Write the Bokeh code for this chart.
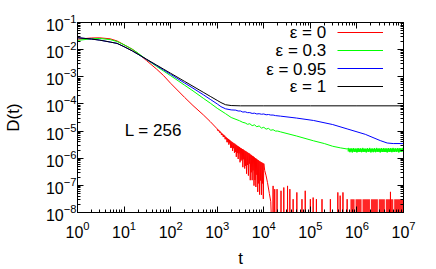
import numpy as np
from bokeh.plotting import figure
from bokeh.models import (LogAxis, FixedTicker, Legend, LegendItem, Label,
                          CustomJSTickFormatter, Range1d)
from bokeh.core.properties import value
from bokeh.embed import file_html
from bokeh.resources import INLINE

# ---------------- data (log10 values) ----------------
legend_labels = ["ε = 0", "ε = 0.3", "ε = 0.95", "ε = 1"]
annotation_text = "L = 256"

black_log_t = [0, 0.3, 0.48, 0.7, 0.85, 1.0, 1.18, 1.3, 1.48, 1.7, 1.85, 2.0, 2.3, 2.48,
               2.7, 2.85, 3.0, 3.08, 3.18, 3.3, 3.5, 4, 5, 6, 7]
black_log_D = [-1.56, -1.61, -1.65, -1.72, -1.77, -1.89, -2.05, -2.17, -2.35, -2.57, -2.72,
               -2.87, -3.17, -3.35, -3.57, -3.72, -3.87, -3.95, -4.03, -4.06, -4.07, -4.07,
               -4.07, -4.07, -4.07]

blue_log_t = [0, 0.3, 0.48, 0.7, 0.85, 1.0, 1.18, 1.3, 1.48, 1.7, 1.85, 2.0, 2.3, 2.48,
              2.7, 2.85, 3.0, 3.08, 3.18, 3.3,
              3.4, 3.45, 3.5, 3.55, 3.6, 3.65, 3.7, 3.75, 3.8, 3.85, 3.9, 3.95, 4.0, 4.05,
              4.1, 4.15, 4.2, 4.25,
              4.36, 4.7, 5.07, 5.48, 5.79, 6.18, 6.5, 6.65, 6.78, 7.0]
blue_log_D = [-1.56, -1.61, -1.65, -1.72, -1.77, -1.89, -2.05, -2.17, -2.36, -2.59, -2.75,
              -2.91, -3.23, -3.42, -3.66, -3.83, -4.00, -4.10, -4.18, -4.22,
              -4.23, -4.26, -4.26, -4.30, -4.29, -4.32, -4.32, -4.35, -4.34, -4.37, -4.36,
              -4.38, -4.37, -4.40, -4.39, -4.41, -4.41, -4.43,
              -4.45, -4.52, -4.61, -4.76, -4.92, -5.12, -5.35, -5.44, -5.46, -5.46]

green_log_t = [0, 0.3, 0.48, 0.7, 0.85, 1.0, 1.18, 1.3, 1.48, 1.7, 1.85, 2.0, 2.3, 2.48,
               2.7, 2.85, 3.0, 3.18, 3.3, 3.48,
               3.55, 3.6, 3.65, 3.7, 3.75, 3.8, 3.85, 3.9, 3.95, 4.0, 4.05, 4.1, 4.15, 4.2,
               4.25, 4.3, 4.36,
               4.7, 5.07, 5.3, 5.48, 5.65, 5.79,
               5.825, 5.85, 5.875, 5.9, 5.925, 5.95, 5.975, 6.0, 6.025, 6.05, 6.075, 6.1,
               6.125, 6.15, 6.175, 6.2, 6.225, 6.25, 6.275, 6.3, 6.325, 6.35, 6.375, 6.4,
               6.425, 6.45, 6.475, 6.5, 6.525, 6.55, 6.575, 6.6, 6.625, 6.65, 6.675, 6.7,
               6.725, 6.75, 6.775, 6.8, 6.825, 6.85, 6.875, 6.9, 6.925, 6.95, 6.975, 7.0]
green_log_D = [-1.66, -1.60, -1.59, -1.63, -1.70, -1.82, -1.99, -2.13, -2.36, -2.62, -2.79,
               -2.96, -3.31, -3.52, -3.79, -3.97, -4.16, -4.36, -4.50, -4.62,
               -4.68, -4.70, -4.75, -4.73, -4.80, -4.77, -4.84, -4.81, -4.89, -4.86, -4.93,
               -4.90, -4.97, -4.95, -5.00, -5.00, -5.03,
               -5.18, -5.36, -5.46, -5.56, -5.62, -5.66,
               -5.63, -5.78, -5.64, -5.79, -5.63, -5.77, -5.65, -5.79, -5.63, -5.76, -5.64,
               -5.78, -5.62, -5.77, -5.65, -5.79, -5.63, -5.77, -5.62, -5.79, -5.64, -5.78,
               -5.63, -5.78, -5.62, -5.76, -5.64, -5.79, -5.63, -5.77, -5.63, -5.77, -5.64,
               -5.79, -5.63, -5.77, -5.63, -5.78, -5.62, -5.77, -5.64, -5.76, -5.63, -5.79,
               -5.63, -5.77, -5.62, -5.77]
# noise envelope of the green plateau
green_band_log_t = [5.80, 6.00, 6.30, 6.60, 6.85, 7.00]
green_band_upper_log_D = [-5.64, -5.64, -5.65, -5.64, -5.64, -5.63]
green_band_lower_log_D = [-5.75, -5.77, -5.76, -5.77, -5.76, -5.76]

red_log_t = [0, 0.3, 0.48, 0.7, 0.85, 1.0, 1.18, 1.3, 1.48, 1.7, 1.85, 2.0, 2.3, 2.48,
             2.7, 2.85,
             3.00, 3.01, 3.02, 3.03, 3.04, 3.05, 3.06, 3.07, 3.08, 3.09,
             3.10, 3.11, 3.12, 3.13, 3.14, 3.15, 3.16, 3.17, 3.18, 3.19,
             3.20, 3.21, 3.22, 3.23, 3.24, 3.25, 3.26, 3.27, 3.28, 3.29,
             3.30, 3.31, 3.32, 3.33, 3.34, 3.35, 3.36, 3.37, 3.38, 3.39,
             3.40, 3.41, 3.42, 3.43, 3.44, 3.45, 3.46, 3.47, 3.48, 3.49,
             3.50, 3.51, 3.52, 3.53, 3.54, 3.55, 3.56, 3.57, 3.58, 3.59,
             3.60, 3.61, 3.62, 3.63, 3.64, 3.65, 3.66, 3.67, 3.68, 3.69,
             3.70, 3.71, 3.72, 3.73, 3.74, 3.75, 3.76, 3.77, 3.78, 3.79,
             3.80, 3.81, 3.82, 3.83, 3.84, 3.85, 3.86, 3.87, 3.88, 3.89,
             3.90, 3.91, 3.92, 3.93, 3.94, 3.95, 3.96, 3.97, 3.98, 3.99,
             4.00, 4.02, 4.05, 4.08, 4.12, 4.15, 4.18]
red_log_D = [-1.615, -1.57, -1.565, -1.60, -1.68, -1.82, -1.99, -2.14, -2.40, -2.72, -2.96,
             -3.24, -3.76, -4.06, -4.40, -4.65,
             -4.92, -4.98, -4.95, -5.00, -4.98, -5.05, -5.01, -5.07, -5.05, -5.14,
             -5.08, -5.15, -5.11, -5.22, -5.14, -5.22, -5.17, -5.30, -5.21, -5.30,
             -5.24, -5.41, -5.27, -5.41, -5.29, -5.50, -5.32, -5.45, -5.35, -5.62,
             -5.38, -5.61, -5.40, -5.73, -5.43, -5.63, -5.45, -5.80, -5.47, -5.77,
             -5.50, -5.95, -5.52, -5.81, -5.55, -6.03, -5.57, -5.82, -5.59, -6.15,
             -5.62, -6.09, -5.64, -6.05, -5.66, -6.33, -5.68, -6.04, -5.71, -6.38,
             -5.73, -6.28, -5.75, -6.57, -5.77, -6.25, -5.80, -6.64, -5.81, -6.20,
             -5.84, -6.81, -5.87, -6.52, -5.89, -6.81, -5.92, -6.45, -5.94, -7.01,
             -5.97, -6.80, -6.00, -7.06, -6.02, -6.61, -6.05, -7.24, -6.07, -6.93,
             -6.10, -7.34, -6.12, -6.82, -6.14, -7.35, -6.16, -6.93, -6.18, -7.50,
             -6.20, -6.45, -6.65, -6.90, -7.30, -7.60, -9.0]
red_spike_log_t = [4.20, 4.235, 4.285, 4.37, 4.43, 4.51, 4.56, 4.63, 4.71, 4.82, 4.89, 5.0,
                   5.06, 5.13, 5.25, 5.43, 5.59, 5.64, 5.70, 5.79, 6.72]
red_spike_log_D = [-7.02, -7.14, -7.14, -7.2, -7.08, -7.02, -7.14, -7.51, -7.26, -7.51, -7.2,
                   -7.51, -7.45, -7.51, -7.51, -7.51, -7.26, -7.38, -7.26, -7.51, -7.24]
red_band_left_log_t = [5.86, 5.97, 6.12, 6.30, 6.47, 6.62, 6.80]
red_band_right_log_t = [5.95, 6.10, 6.28, 6.45, 6.60, 6.78, 7.00]
red_band_log_D = -7.51
red_floor_log_D = -9.0

x_major = [10.0 ** k for k in range(0, 8)]
x_minor = [m * 10.0 ** k for k in range(0, 7) for m in range(2, 10)]
y_major = [10.0 ** k for k in range(-8, 0)]
y_minor = [m * 10.0 ** k for k in range(-8, -1) for m in range(2, 10)]

# ---------------- build series ----------------
def pow10(a):
    return [10.0 ** v for v in a]

spike_w = 0.004
red_t = list(red_log_t)
red_D = list(red_log_D)
for st, sd in zip(red_spike_log_t, red_spike_log_D):
    red_t += [st - spike_w, st, st + spike_w]
    red_D += [red_floor_log_D, sd, red_floor_log_D]
red_t.append(7.0)
red_D.append(red_floor_log_D)
order = np.argsort(red_t, kind="stable")
red_t = [red_t[i] for i in order]
red_D = [red_D[i] for i in order]

FONT = "Liberation Sans"

p = figure(x_axis_type="log", y_axis_type="log",
           x_range=Range1d(1, 1e7), y_range=Range1d(1e-8, 1e-1),
           frame_width=326, frame_height=190,
           min_border_left=77, min_border_right=25, min_border_top=22, min_border_bottom=52,
           output_backend="svg", toolbar_location=None,
           background_fill_color="white", border_fill_color="white",
           outline_line_color="black")
p.grid.visible = False

p.xaxis[0].ticker = FixedTicker(ticks=x_major, minor_ticks=x_minor)
p.yaxis[0].ticker = FixedTicker(ticks=y_major, minor_ticks=y_minor)

for ax in (p.xaxis[0], p.yaxis[0]):
    ax.major_tick_in = 6
    ax.major_tick_out = 0
    ax.minor_tick_in = 3
    ax.minor_tick_out = 0
    ax.axis_line_color = "black"
    ax.major_tick_line_color = "black"
    ax.minor_tick_line_color = "black"
    ax.major_label_text_font = FONT
    ax.major_label_text_font_size = "16px"
    ax.major_label_text_color = "black"
    ax.axis_label_text_font = FONT
    ax.axis_label_text_font_size = "17px"
    ax.axis_label_text_font_style = "normal"
    ax.axis_label_text_color = "black"

p.xaxis[0].axis_label = "t"
p.xaxis[0].major_label_standoff = 8
p.xaxis[0].axis_label_standoff = 8
p.yaxis[0].axis_label = "D(t)"
p.yaxis[0].major_label_standoff = 1
p.yaxis[0].axis_label_standoff = 20

blank = CustomJSTickFormatter(code="return ''")
top_ax = LogAxis(ticker=FixedTicker(ticks=x_major, minor_ticks=x_minor), formatter=blank,
                 major_tick_in=6, major_tick_out=0, minor_tick_in=3, minor_tick_out=0,
                 major_label_standoff=0, axis_line_color="black")
right_ax = LogAxis(ticker=FixedTicker(ticks=y_major, minor_ticks=y_minor), formatter=blank,
                   major_tick_in=6, major_tick_out=0, minor_tick_in=3, minor_tick_out=0,
                   major_label_standoff=0, axis_line_color="black")
p.add_layout(top_ax, "above")
p.add_layout(right_ax, "right")

# dense red band near the floor
p.quad(left=pow10(red_band_left_log_t), right=pow10(red_band_right_log_t),
       bottom=10.0 ** red_floor_log_D, top=10.0 ** red_band_log_D,
       fill_color="#ff0000", fill_alpha=0.85, line_color=None)

r_red = p.line(pow10(red_t), pow10(red_D), line_color="#ff0000", line_width=1)
p.varea(x=pow10(green_band_log_t), y1=pow10(green_band_lower_log_D),
        y2=pow10(green_band_upper_log_D), fill_color="#00ff00", fill_alpha=0.9)
r_green = p.line(pow10(green_log_t), pow10(green_log_D), line_color="#00ff00", line_width=1)
r_blue = p.line(pow10(blue_log_t), pow10(blue_log_D), line_color="#0000ff", line_width=1)
r_black = p.line(pow10(black_log_t), pow10(black_log_D), line_color="#000000", line_width=1)

# legend: line samples via Legend, texts right-aligned on their left (gnuplot style)
items = [LegendItem(label=value(""), renderers=[r]) for r in (r_red, r_green, r_blue, r_black)]
leg = Legend(items=items, location=(260, 117), orientation="vertical",
             glyph_width=46, glyph_height=18, label_height=18, label_width=0,
             label_standoff=0, spacing=0, padding=0, margin=0,
             border_line_color=None, background_fill_alpha=0)
p.add_layout(leg)

# legend texts, placed in data units (right edge at t = 10^5.34)
legend_text_log_t = 5.34
legend_text_log_D = [-1.37, -2.04, -2.72, -3.37]
for txt, yy in zip(legend_labels, legend_text_log_D):
    p.add_layout(Label(x=10.0 ** legend_text_log_t, y=10.0 ** yy, text=txt,
                       text_align="right", text_baseline="middle",
                       text_font=FONT, text_font_size="17px", text_color="black"))

p.add_layout(Label(x=10.0 ** 1.63, y=10.0 ** -4.99, text=annotation_text,
                   text_align="center", text_baseline="middle",
                   text_font=FONT, text_font_size="17px", text_color="black"))

open("out.html", "w").write(file_html(p, INLINE))
